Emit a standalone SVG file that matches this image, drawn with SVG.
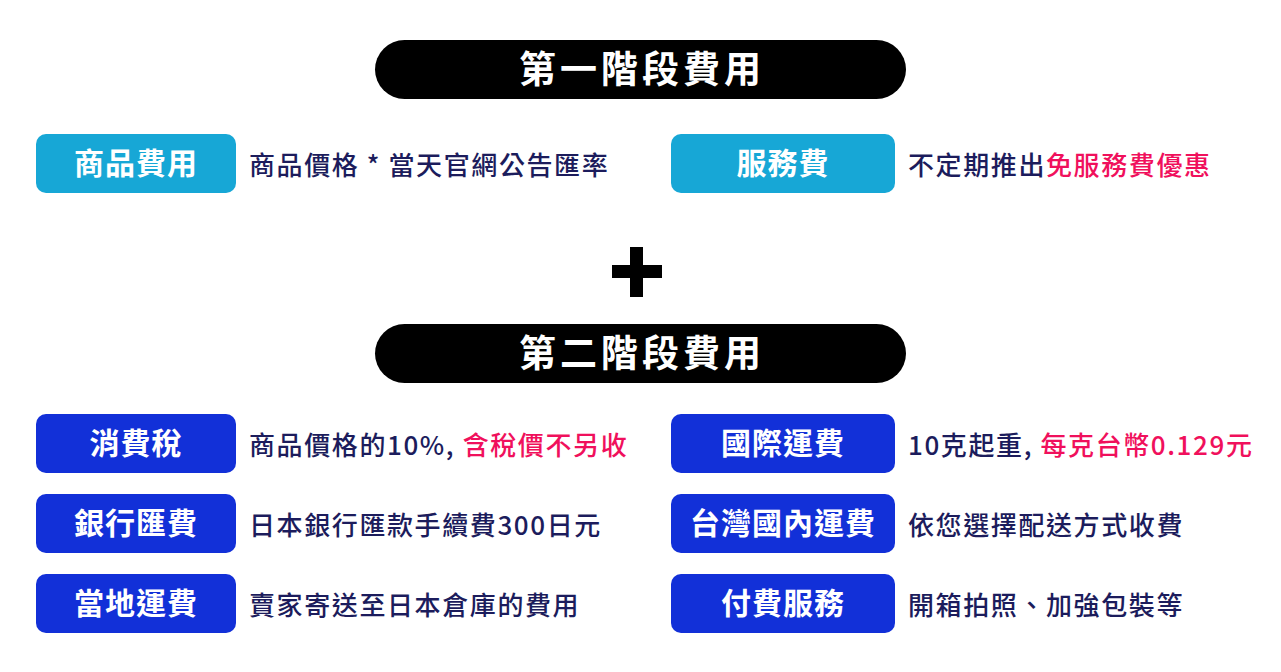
<svg xmlns="http://www.w3.org/2000/svg" width="1281" height="672" viewBox="0 0 1281 672">
<style>
text{font-family:"Noto Sans CJK TC","Noto Sans CJK SC",sans-serif}
.t{fill:#000}.tt{fill:#fff;font-size:37px;font-weight:700;text-anchor:middle;letter-spacing:4px}
.c{fill:#17a7d6}.b{fill:#1230d8}
.bl{fill:#fff;font-size:30px;font-weight:700;text-anchor:middle;letter-spacing:1px}
.d{fill:#1c1c5c;font-size:26px;font-weight:500;letter-spacing:1.6px}
.r{fill:#f0105c}
</style>
<g id="title1"><rect class="t" x="375" y="40" width="531" height="59" rx="29.5"/><text class="tt" x="642" y="83">第一階段費用</text></g>
<g id="n1"><rect class="c" x="36" y="134" width="200" height="59" rx="10"/><text class="bl" x="136" y="174">商品費用</text></g>
<text class="d" x="249" y="175">商品價格 * 當天官網公告匯率</text>
<g id="n2"><rect class="c" x="671" y="134" width="224" height="59" rx="10"/><text class="bl" x="783" y="174">服務費</text></g>
<text class="d" x="908" y="175">不定期推出<tspan class="r">免服務費優惠</tspan></text>
<g id="plus"><rect x="612" y="265" width="50" height="13" fill="#000"/><rect x="630" y="247" width="13" height="50" fill="#000"/></g>
<g id="title2"><rect class="t" x="375" y="324" width="531" height="59" rx="29.5"/><text class="tt" x="642" y="367">第二階段費用</text></g>
<g id="n3"><rect class="b" x="36" y="414" width="200" height="59" rx="10"/><text class="bl" x="136" y="454">消費稅</text></g>
<text class="d" x="249" y="455">商品價格的10%, <tspan class="r">含稅價不另收</tspan></text>
<g id="n4"><rect class="b" x="671" y="414" width="224" height="59" rx="10"/><text class="bl" x="783" y="454">國際運費</text></g>
<text class="d" x="908" y="455">10克起重, <tspan class="r">每克台幣0.129元</tspan></text>
<g id="n5"><rect class="b" x="36" y="494" width="200" height="59" rx="10"/><text class="bl" x="136" y="534">銀行匯費</text></g>
<text class="d" x="249" y="535">日本銀行匯款手續費300日元</text>
<g id="n6"><rect class="b" x="671" y="494" width="224" height="59" rx="10"/><text class="bl" x="783" y="534">台灣國內運費</text></g>
<text class="d" x="908" y="535">依您選擇配送方式收費</text>
<g id="n7"><rect class="b" x="36" y="574" width="200" height="59" rx="10"/><text class="bl" x="136" y="614">當地運費</text></g>
<text class="d" x="249" y="615">賣家寄送至日本倉庫的費用</text>
<g id="n8"><rect class="b" x="671" y="574" width="224" height="59" rx="10"/><text class="bl" x="783" y="614">付費服務</text></g>
<text class="d" x="908" y="615">開箱拍照、加強包裝等</text>
<g id="connectors"/>
</svg>
